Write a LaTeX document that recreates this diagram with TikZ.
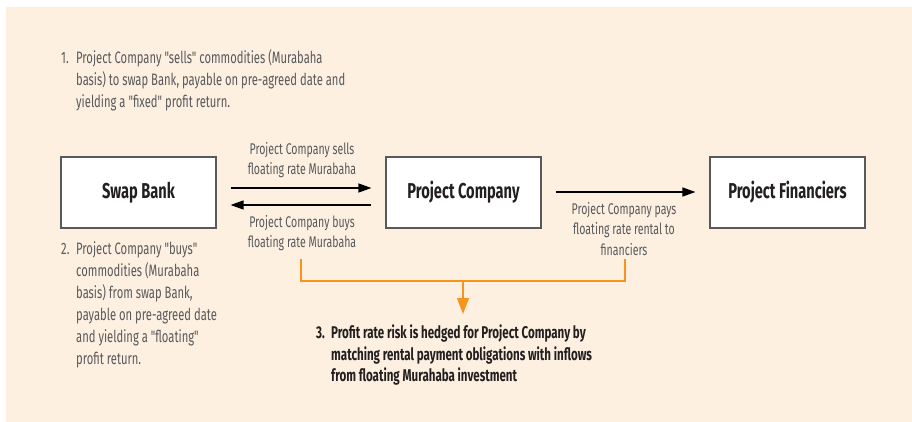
\documentclass[tikz,border=0pt]{standalone}
\usepackage{fontspec}
\setmainfont{Fira Sans}[FakeStretch=0.68, Ligatures=TeXOff]
\usetikzlibrary{arrows.meta}
\definecolor{bgbeige}{HTML}{FDF0E1}
\definecolor{txtgray}{HTML}{58595B}
\definecolor{txtdark}{HTML}{231F20}
\definecolor{boxgray}{HTML}{58595B}
\definecolor{orangeline}{HTML}{F7941D}
\newcommand{\numcol}[1]{\makebox[15pt][l]{#1}}
\tikzset{
  entity/.style={draw=boxgray, line width=1.1pt, fill=white, minimum width=155pt, minimum height=71pt, inner sep=0pt, font=\fontsize{21.5}{24}\selectfont\bfseries, text=txtdark},
  flowlabel/.style={align=center, font=\fontsize{15.5}{20.5}\selectfont, text=txtgray, inner sep=0pt},
  note/.style={align=left, font=\fontsize{16.5}{21.9}\selectfont, text=txtgray, inner sep=0pt, anchor=north west},
  boldnote/.style={align=left, font=\fontsize{17}{21.5}\selectfont\bfseries, text=txtdark, inner sep=0pt, anchor=north west},
  flow/.style={line width=1.3pt, draw=black, -{Triangle[length=13pt,width=9pt]}},
  hedge/.style={line width=1.4pt, draw=orangeline},
  hedgearrow/.style={line width=1.4pt, draw=orangeline, -{Triangle[length=16pt,width=12pt,fill=orangeline]}}
}
\begin{document}
\begin{tikzpicture}[x=1pt,y=-1pt]
\useasboundingbox (0,0) rectangle (912,422);
\fill[bgbeige] (6,7) rectangle (912,422);
% boxes
\node[entity] (sb) at (138.5,192.5) {Swap Bank};
\node[entity] (pc) at (463.5,192.5) {Project Company};
\node[entity] (pf) at (787.5,192.5) {Project Financiers};
% arrows
\draw[flow] ([xshift=14pt,yshift=4.5pt]sb.east) -- ([xshift=-14pt,yshift=4.5pt]pc.west);
\draw[flow] ([xshift=-14pt,yshift=-12.5pt]pc.west) -- ([xshift=14pt,yshift=-12.5pt]sb.east);
\draw[flow] ([xshift=14pt,yshift=0.5pt]pc.east) -- ([xshift=-14pt,yshift=0.5pt]pf.west);
% flow labels
\node[flowlabel] (lsell) at (302,160) {Project Company sells\\floating rate Murabaha};
\node[flowlabel] (lbuy) at (302,233) {Project Company buys\\floating rate Murabaha};
\node[flowlabel] (lpay) at (624,229) {Project Company pays\\floating rate rental to\\financiers};
% notes
\node[note] (n1) at (61,48) {\begin{tabular}{@{}l@{}l@{}}
\numcol{1.}&Project Company "sells" commodities (Murabaha\\
&basis) to swap Bank, payable on pre-agreed date and\\
&yielding a "fixed" profit return.\end{tabular}};
\node[note] (n2) at (61,239) {\begin{tabular}{@{}l@{}l@{}}
\numcol{2.}&Project Company "buys"\\
&commodities (Murabaha\\
&basis) from swap Bank,\\
&payable on pre-agreed date\\
&and yielding a "floating"\\
&profit return.\end{tabular}};
\node[boldnote] (n3) at (316,323.5) {\begin{tabular}{@{}l@{}l@{}}
\numcol{3.}&Profit rate risk is hedged for Project Company by\\
&matching rental payment obligations with inflows\\
&from floating Murahaba investment\end{tabular}};
% hedge connector
\coordinate (hl) at (301,259);
\coordinate (hr) at (625,259);
\coordinate (hm) at (463,281);
\coordinate (htip) at (463,314);
\draw[hedge] (hl) |- (hm) -| (hr);
\draw[hedgearrow] (hm) -- (htip);
\end{tikzpicture}
\end{document}
